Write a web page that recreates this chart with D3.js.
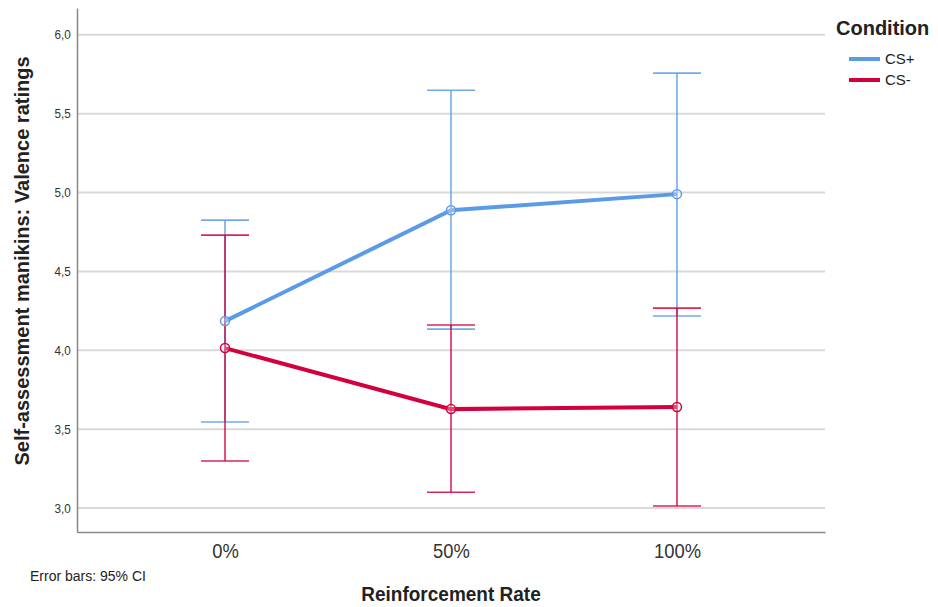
<!DOCTYPE html>
<html>
<head>
<meta charset="utf-8">
<script src="https://cdn.jsdelivr.net/npm/d3@7"></script>
<style>
  body { margin: 0; background: #fff; }
  svg { display: block; font-family: "Liberation Sans", Arial, sans-serif; }
</style>
</head>
<body>
<div id="chart"></div>
<script>
// Data
var rates = ["0%", "50%", "100%"];
var conditions = ["CS+", "CS-"];
var meanPlus  = [4.185, 4.888, 4.990];
var lowPlus   = [3.545, 4.134, 4.217];
var highPlus  = [4.825, 5.649, 5.757];
var meanMinus = [4.014, 3.627, 3.640];
var lowMinus  = [3.298, 3.100, 3.013];
var highMinus = [4.730, 4.160, 4.267];
var yTicks = [3.0, 3.5, 4.0, 4.5, 5.0, 5.5, 6.0];
var colors = ["#5b9be6", "#d2003c"];

var series = [
  {name: conditions[0], color: colors[0], mean: meanPlus, low: lowPlus, high: highPlus},
  {name: conditions[1], color: colors[1], mean: meanMinus, low: lowMinus, high: highMinus}
];

var margin = {top: 8, right: 113, bottom: 75, left: 77},
    width = 938 - margin.left - margin.right,
    height = 607 - margin.top - margin.bottom;

var x = d3.scalePoint()
    .domain(rates)
    .range([0, width])
    .padding(0.655);
var y = d3.scaleLinear()
    .domain([2.848, 6.17])
    .range([height, 0]);

var svg = d3.select("#chart").append("svg")
    .attr("width", 938)
    .attr("height", 607);
var g = svg.append("g")
    .attr("transform", "translate(" + margin.left + "," + margin.top + ")");

// gridlines
g.selectAll(".grid")
    .data(yTicks)
  .enter().append("line")
    .attr("x1", 0).attr("x2", width)
    .attr("y1", function(d) { return y(d); })
    .attr("y2", function(d) { return y(d); })
    .attr("stroke", "#d9d9d9")
    .attr("stroke-width", 2);

// y axis
var yAxis = g.append("g")
    .call(d3.axisLeft(y).tickValues(yTicks).tickSize(0).tickPadding(7)
      .tickFormat(function(d) { return d3.format(".1f")(d).replace(".", ","); }));
yAxis.select(".domain").attr("stroke", "#888").attr("stroke-width", 1.5);
yAxis.selectAll("text").attr("font-size", 13).attr("fill", "#333")
    .attr("transform", "scale(0.9,1)");

// x axis
var xAxis = g.append("g")
    .attr("transform", "translate(0," + height + ")")
    .call(d3.axisBottom(x).tickSize(0).tickPadding(12));
xAxis.select(".domain").attr("stroke", "#888").attr("stroke-width", 1.5);
xAxis.selectAll("text").attr("font-size", 20).attr("fill", "#333")
    .attr("transform", "scale(0.92,1)");

// error bars
var capW = 24;
series.forEach(function(s) {
  var eb = g.append("g")
      .attr("stroke", s.color)
      .attr("stroke-width", 1.6)
      .attr("stroke-opacity", 0.85);
  rates.forEach(function(r, i) {
    eb.append("line")
      .attr("x1", x(r)).attr("x2", x(r))
      .attr("y1", y(s.low[i])).attr("y2", y(s.high[i]));
    [s.low[i], s.high[i]].forEach(function(v) {
      eb.append("line")
        .attr("x1", x(r) - capW).attr("x2", x(r) + capW)
        .attr("y1", y(v)).attr("y2", y(v));
    });
  });
});

// mean lines and markers
var line = d3.line()
    .x(function(d, i) { return x(rates[i]); })
    .y(function(d) { return y(d); });

series.forEach(function(s) {
  g.append("path")
    .datum(s.mean)
    .attr("fill", "none")
    .attr("stroke", s.color)
    .attr("stroke-width", 4)
    .attr("d", line);
  g.append("g").selectAll("circle")
    .data(s.mean)
  .enter().append("circle")
    .attr("cx", function(d, i) { return x(rates[i]); })
    .attr("cy", function(d) { return y(d); })
    .attr("r", 4.5)
    .attr("fill", "#fff")
    .attr("fill-opacity", 0.3)
    .attr("stroke", s.color)
    .attr("stroke-width", 1.5);
});

// axis titles
svg.append("text")
    .attr("transform", "translate(451,601) scale(0.95,1)")
    .attr("text-anchor", "middle")
    .attr("font-size", 20).attr("font-weight", "bold").attr("fill", "#222")
    .text("Reinforcement Rate");
svg.append("text")
    .attr("transform", "translate(29,261) rotate(-90)")
    .attr("text-anchor", "middle")
    .attr("font-size", 20).attr("font-weight", "bold").attr("fill", "#222")
    .text("Self-assessment manikins: Valence ratings");

svg.append("text")
    .attr("x", 30).attr("y", 581)
    .attr("font-size", 14).attr("fill", "#222")
    .text("Error bars: 95% CI");

// legend
var legend = svg.append("g").attr("transform", "translate(836,0)");
legend.append("text")
    .attr("x", 0).attr("y", 35)
    .attr("font-size", 20).attr("font-weight", "bold").attr("fill", "#222")
    .text("Condition");
series.forEach(function(s, i) {
  var ly = 59 + i * 21;
  legend.append("line")
    .attr("x1", 13).attr("x2", 44)
    .attr("y1", ly).attr("y2", ly)
    .attr("stroke", s.color).attr("stroke-width", 4);
  legend.append("text")
    .attr("x", 49).attr("y", ly + 5)
    .attr("font-size", 15).attr("fill", "#222")
    .text(s.name);
});
</script>
</body>
</html>
